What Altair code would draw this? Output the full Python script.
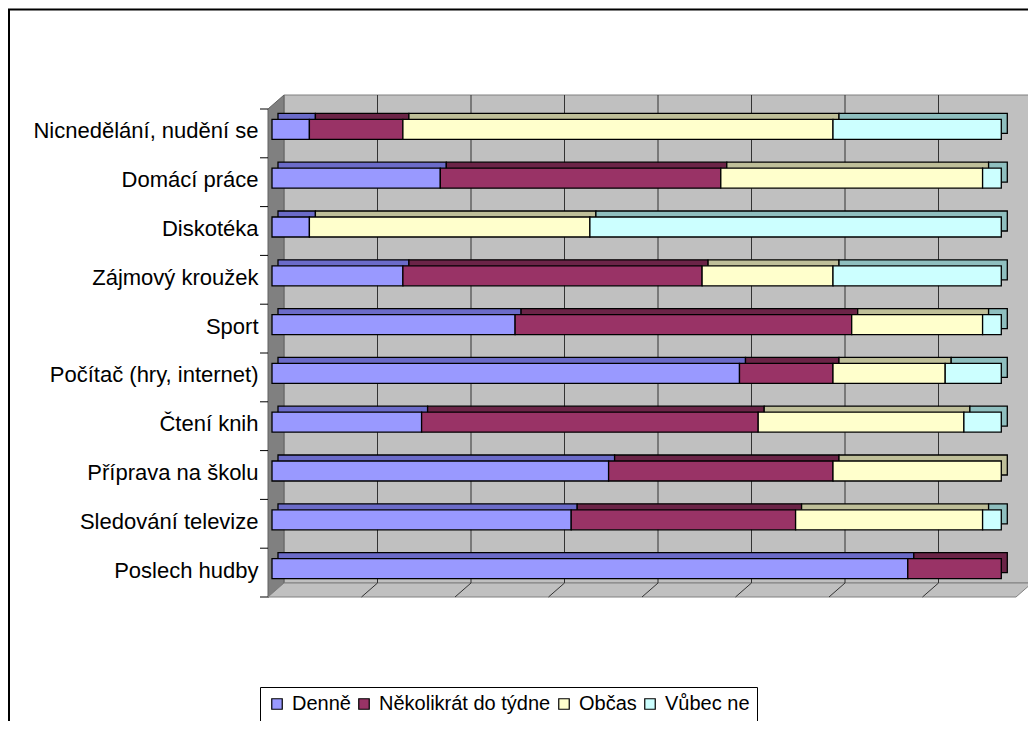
import altair as alt
import pandas as pd

# ---- data ----
categories = [
    "Nicnedělání, nudění se",
    "Domácí práce\u00a0",
    "Diskotéka",
    "Zájmový kroužek",
    "Sport",
    "Počítač (hry, internet)",
    "Čtení knih",
    "Příprava na školu",
    "Sledování televize",
    "Poslech hudby",
]
series = ["Denně", "Několikrát do týdne", "Občas", "Vůbec ne"]
denne = [2, 9, 2, 7, 13, 25, 8, 18, 16, 34]
nekolikrat = [5, 15, 0, 16, 18, 5, 18, 12, 12, 5]
obcas = [23, 14, 15, 7, 7, 6, 11, 9, 10, 0]
vubec = [9, 1, 22, 9, 1, 3, 2, 0, 1, 0]
grid_values = [5, 10, 15, 20, 25, 30, 35]

front_colors = ["#9999FF", "#993366", "#FFFFCC", "#CCFFFF"]
top_colors = ["#6B6BC9", "#6B2447", "#BFBF99", "#8FBFBF"]

# ---- geometry / style ----
W, H = 748, 488          # front plane of the 3D plot
DX, DY = 16, 14          # wall depth
BX, BY = 4, -4           # bar front offset
BD = 6                   # bar depth
BAR_H = 20
FONT = "Liberation Sans"

rows = []
vals = [denne, nekolikrat, obcas, vubec]
for i, cat in enumerate(categories):
    start = 0
    for s, name in enumerate(series):
        v = vals[s][i]
        if v > 0:
            rows.append({"cat": cat, "series": name, "start": start,
                         "end": start + v, "top": top_colors[s], "order": s})
        start += v
df = pd.DataFrame(rows)

# ---- decoration (walls/floor/frame) on identity scales ----
wall_df = pd.DataFrame([{"x": DX, "x2": W + DX, "y": -DY, "y2": H - DY}])
wall = alt.Chart(wall_df).mark_rect(fill="#C0C0C0", stroke="#808080", strokeWidth=1).encode(
    x=alt.X("x:Q", scale=None, axis=None), x2="x2:Q",
    y=alt.Y("y:Q", scale=None, axis=None), y2="y2:Q")

side_df = pd.DataFrame([{"x": 0, "y": 0, "y2": H}, {"x": DX, "y": -DY, "y2": H - DY}])
side = alt.Chart(side_df).mark_area(orient="vertical", fill="#808080", stroke="#606060", strokeWidth=1).encode(
    x=alt.X("x:Q", scale=None, axis=None),
    y=alt.Y("y:Q", scale=None, axis=None), y2="y2:Q")

floor_df = pd.DataFrame([
    {"x": 0, "y": H, "y2": H},
    {"x": DX, "y": H - DY, "y2": H},
    {"x": W, "y": H - DY, "y2": H},
    {"x": W + DX, "y": H - DY, "y2": H - DY},
])
floor = alt.Chart(floor_df).mark_area(orient="vertical", fill="#C0C0C0", stroke="#808080", strokeWidth=1).encode(
    x=alt.X("x:Q", scale=None, axis=None),
    y=alt.Y("y:Q", scale=None, axis=None), y2="y2:Q")

frame_df = pd.DataFrame([{"x": -259, "y": -99.5, "x2": 2000, "y2": 2000}])
frame = alt.Chart(frame_df).mark_rect(fill=None, stroke="black", strokeWidth=2).encode(
    x=alt.X("x:Q", scale=None, axis=None), x2="x2:Q",
    y=alt.Y("y:Q", scale=None, axis=None), y2="y2:Q")

deco = alt.layer(frame, wall, side, floor)

# ---- main plot ----
xscale = alt.Scale(domain=[0, 40], nice=False, zero=True)
yscale = alt.Scale(domain=categories, paddingInner=0, paddingOuter=0)

grid_df = pd.DataFrame({"v": grid_values})
grid = alt.Chart(grid_df).mark_rule(color="#333333", strokeWidth=1, xOffset=DX).encode(
    x=alt.X("v:Q", scale=xscale, axis=None),
    y=alt.value(-DY), y2=alt.value(H - DY))
floor_lines = alt.Chart(grid_df).mark_rule(color="#333333", strokeWidth=1, x2Offset=DX).encode(
    x=alt.X("v:Q", scale=xscale, axis=None), x2="v:Q",
    y=alt.value(H), y2=alt.value(H - DY))

back = alt.Chart(df).mark_bar(size=BAR_H, xOffset=BX + BD, x2Offset=BX + BD, yOffset=BY - BD,
                              stroke="black", strokeWidth=1.3).encode(
    x=alt.X("start:Q", scale=xscale, axis=None), x2="end:Q",
    y=alt.Y("cat:N", scale=yscale, sort=categories),
    color=alt.Color("top:N", scale=None, legend=None),
    order=alt.Order("order:Q"))

legend = alt.Legend(title=None, orient="none", legendX=-8, legendY=578,
                    direction="horizontal", columns=4, symbolType="square",
                    symbolSize=110, symbolStrokeColor="black",
                    symbolStrokeWidth=1.2, symbolOpacity=1,
                    labelFont=FONT, labelFontSize=20, labelColor="black",
                    labelOffset=5, columnPadding=3, labelLimit=400,
                    strokeColor="black", fillColor="white", padding=7)

front = alt.Chart(df).mark_bar(size=BAR_H, xOffset=BX, x2Offset=BX, yOffset=BY,
                               strokeWidth=1.3, opacity=1).encode(
    x=alt.X("start:Q", scale=xscale, axis=None), x2="end:Q",
    y=alt.Y("cat:N", scale=yscale, sort=categories,
            axis=alt.Axis(title=None, ticks=False, domain=True, domainColor="black",
                          domainWidth=1, labelFont=FONT, labelFontSize=22, labelColor="black",
                          labelPadding=10, labelOffset=-2, labelLimit=400)),
    fill=alt.Fill("series:N", scale=alt.Scale(domain=series, range=front_colors),
                  legend=legend),
    stroke=alt.Stroke("series:N", scale=alt.Scale(domain=series, range=["black"] * 4),
                      legend=legend),
    order=alt.Order("order:Q"))

tick_df = pd.DataFrame({"cat": categories})
ticks = alt.Chart(tick_df).mark_rule(color="black", strokeWidth=1).encode(
    y=alt.Y("cat:N", scale=yscale, sort=categories, bandPosition=0),
    x=alt.value(-8), x2=alt.value(0))
ticks_end = alt.Chart(tick_df.tail(1)).mark_rule(color="black", strokeWidth=1).encode(
    y=alt.Y("cat:N", scale=yscale, sort=categories, bandPosition=1),
    x=alt.value(-8), x2=alt.value(0))

main = alt.layer(grid, floor_lines, back, front, ticks, ticks_end)

chart = alt.layer(deco, main).resolve_scale(x="independent", y="independent").properties(
    width=W, height=H,
    autosize=alt.AutoSizeParams(type="none"),
    padding={"left": 260, "top": 101, "right": 12, "bottom": 124},
).configure_view(stroke=None)

chart.save("out.html", embed_options={"renderer": "svg", "actions": False})
